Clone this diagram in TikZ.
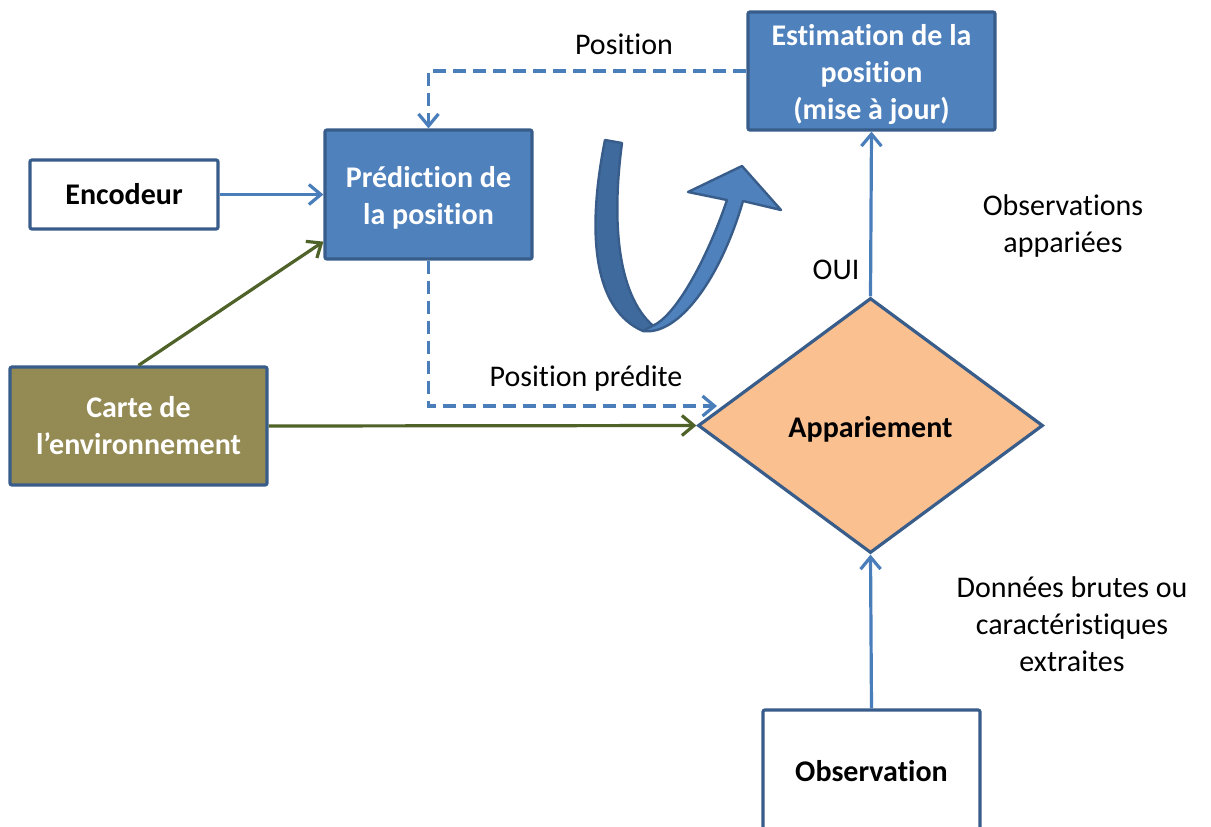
\documentclass[tikz,border=0pt]{standalone}
\usepackage{fontspec}
\setmainfont{Carlito}[RawFeature=-liga]
\usetikzlibrary{arrows.meta,shapes.geometric}

\definecolor{blfill}{HTML}{4F81BD}
\definecolor{bldraw}{HTML}{385D8A}
\definecolor{blline}{HTML}{4A7EBB}
\definecolor{bldark}{HTML}{3F6A9E}
\definecolor{grline}{HTML}{4F6228}
\definecolor{olfill}{HTML}{948A54}
\definecolor{orfill}{HTML}{FAC090}

\newcommand{\lowtxt}[2]{\raisebox{-#1}[\height][\depth]{#2}}

\begin{document}
\begin{tikzpicture}[x=0.5pt, y=-0.5pt,
	box/.style={rectangle, draw=bldraw, line width=1.6pt, rounded corners=1pt,
		align=center, inner sep=0pt, font=\bfseries\fontsize{15}{18.5}\selectfont},
	bluebox/.style={box, fill=blfill, text=white},
	whitebox/.style={box, fill=white},
	lbl/.style={align=center, inner sep=0pt, font=\fontsize{15}{18.5}\selectfont},
	blarrow/.style={draw=blline, line width=1.6pt, -{Straight Barb[length=6pt, width=10pt]}},
	grarrow/.style={draw=grline, line width=1.6pt, -{Straight Barb[length=6pt, width=10pt]}},
	dasharrow/.style={blarrow, dash pattern=on 6.5pt off 3.5pt}
]
	\path[use as bounding box, fill=white] (0,0) rectangle (1211,826);

	% boites
	\node[bluebox, minimum width=123.5pt, minimum height=59pt] (est) at (871.5,71)
		{\lowtxt{2pt}{\parbox{120pt}{\centering Estimation de la\\position\\(mise à jour)}}};
	\node[bluebox, minimum width=103.5pt, minimum height=64.5pt] (pred) at (428.5,194.5)
		{\lowtxt{1.5pt}{\parbox{100pt}{\centering Prédiction de\\la position}}};
	\node[whitebox, minimum width=94pt, minimum height=34.5pt] (enc) at (124,194.5)
		{Encodeur};
	\node[box, fill=olfill, text=white, minimum width=128.5pt, minimum height=59pt] (carte) at (138.5,426)
		{Carte de\\l’environnement};
	\node[box, shape=diamond, fill=orfill, rounded corners=0pt, minimum width=172.5pt, minimum height=127.5pt] (app) at (870.5,425.5)
		{\lowtxt{2pt}{Appariement}};
	\node[whitebox, minimum width=108.5pt, minimum height=61pt] (obs) at (871.5,771)
		{Observation};
	\coordinate (pp) at (717,406);

	% textes
	\node[lbl] (tpos) at (624,44) {Position};
	\node[lbl] (tpred) at (586,378) {Position prédite};
	\node[lbl] (toui) at (836,270) {OUI};
	\node[lbl] (tobs) at (1063,226) {Observations\\appariées};
	\node[lbl] (tdon) at (1072,624) {Données brutes ou\\caractéristiques\\extraites};

	% liaisons
	\draw[blarrow] (enc) -- (pred);
	\draw[grarrow] (carte.north) -- ([yshift=9.5pt]pred.south west);
	\draw[grarrow] (carte.east) -- (app.west);
	\draw[dasharrow] (pred.south) |- (pp);
	\draw[dasharrow] (est.west) -| (pred.north);
	\draw[blarrow] (app.north) -- (est.south);
	\draw[blarrow] (obs.north) -- (app.south);

	% fleche courbe
	\filldraw[fill=bldark, draw=bldraw, line width=1.2pt, line join=round]
		(605,140) .. controls (586,235) and (594,310) .. (643,331)
		-- (657,329) .. controls (618,300) and (611,225) .. (622,143) -- cycle;
	\filldraw[fill=blfill, draw=bldraw, line width=1.2pt, line join=round]
		(643,331) .. controls (678,336) and (720,280) .. (743,201)
		-- (781,210) -- (742,166) -- (688,192) -- (727,200)
		.. controls (706,262) and (674,318) .. (652,326) -- cycle;
\end{tikzpicture}
\end{document}
